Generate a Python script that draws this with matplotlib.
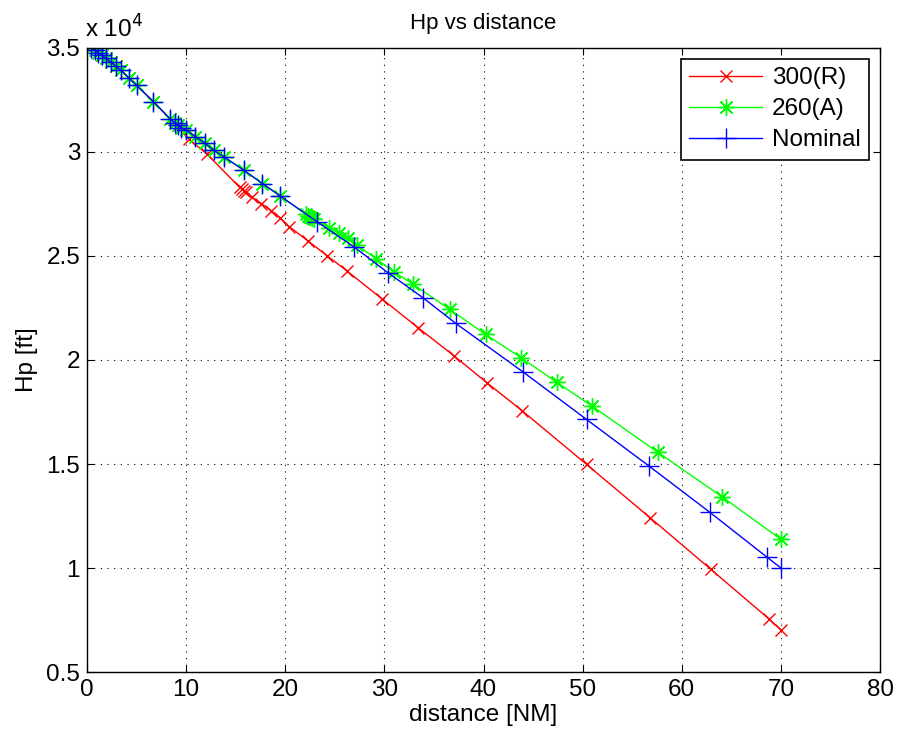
import matplotlib
matplotlib.use("Agg")
import matplotlib.pyplot as plt
from matplotlib.ticker import FuncFormatter, MultipleLocator

plt.rcParams['font.family'] = ['Liberation Sans', 'DejaVu Sans']

# Shared descent profile (first part of every trajectory)
d_common = [0.4, 0.8, 1.1, 1.5, 1.9, 2.4, 2.9, 3.4, 4.2, 5.0, 6.7, 8.4, 8.9, 9.2, 9.5]
hp_common = [35000, 34900, 34780, 34640, 34500, 34320, 34130, 33940, 33560, 33200,
             32420, 31580, 31380, 31300, 31160]

# 300(R)
d_300 = d_common + [10.3, 12.1, 15.4, 15.6, 15.8, 16.0, 16.6, 17.6, 18.6, 19.5, 20.4,
                    22.3, 24.2, 26.2, 29.8, 33.4, 37.0, 40.4, 43.9, 50.4, 56.8, 62.9,
                    68.8, 70.0]
hp_300 = hp_common + [30610, 29900, 28300, 28220, 28140, 28060, 27820, 27510, 27170,
                      26830, 26410, 25720, 25020, 24290, 22920, 21550, 20210, 18880,
                      17560, 14980, 12420, 9950, 7550, 7020]

# 260(A)
d_260 = d_common + [10.0, 10.9, 11.9, 12.8, 13.8, 15.8, 17.7, 19.5, 22.1, 22.3, 22.5,
                    22.7, 22.9, 24.4, 25.4, 26.3, 27.2, 29.2, 31.0, 32.9, 36.6, 40.2,
                    43.8, 47.4, 50.9, 57.6, 64.1, 70.0]
hp_260 = hp_common + [31060, 30740, 30420, 30080, 29770, 29130, 28480, 27880, 27000,
                      26940, 26880, 26820, 26760, 26340, 26090, 25850, 25530, 24860,
                      24220, 23640, 22430, 21230, 20110, 18920, 17800, 15560, 13410,
                      11380]

# Nominal
d_nom = d_common + [10.0, 10.9, 11.9, 12.8, 13.8, 15.8, 17.7, 19.5, 23.2, 26.9, 30.4,
                    33.9, 37.2, 44.0, 50.4, 56.7, 62.8, 68.6, 70.0]
hp_nom = hp_common + [31060, 30740, 30420, 30080, 29770, 29130, 28480, 27880, 26650,
                      25450, 24180, 22990, 21760, 19420, 17140, 14900, 12690, 10520,
                      10000]

FS = 17.5

fig = plt.figure(figsize=(8.98, 7.38), dpi=100)
ax = fig.add_axes([0.0969, 0.0894, 0.8831, 0.8456])

ax.plot(d_300, hp_300, color='#ff0000', lw=1.0, marker='x', ms=9, mew=1.0,
        label='300(R)')
ax.plot(d_260, hp_260, color='#00ff00', lw=1.0, marker=(8, 2, 0), ms=12, mew=1.0,
        label='260(A)')
ax.plot(d_nom, hp_nom, color='#0000ff', lw=1.0, marker='+', ms=14, mew=1.0,
        label='Nominal')

ax.set_xlim(0, 80)
ax.set_ylim(5000, 35000)
ax.xaxis.set_major_locator(MultipleLocator(10))
ax.yaxis.set_major_locator(MultipleLocator(5000))
ax.yaxis.set_major_formatter(FuncFormatter(lambda v, p: '%g' % (v / 1e4)))

ax.grid(True, color='black', linestyle=(0, (1, 5)), linewidth=0.8)
ax.tick_params(direction='in', top=True, right=True, length=5, width=0.8,
               labelsize=FS, pad=5)
for s in ax.spines.values():
    s.set_linewidth(1.0)

ax.set_title('Hp vs distance', fontsize=16, pad=14)
ax.set_xlabel('distance [NM]', fontsize=FS, labelpad=2)
ax.set_ylabel('Hp [ft]', fontsize=FS, labelpad=6)
ax.text(-0.002, 1.008, r'x 10$^{4}$', transform=ax.transAxes, fontsize=FS,
        ha='left', va='bottom')

leg = ax.legend(loc='upper right', fontsize=FS, frameon=True, fancybox=False,
                edgecolor='black', framealpha=1, handlelength=3.0,
                borderaxespad=0.45, labelspacing=0.37, handletextpad=0.4,
                borderpad=0.35)
leg.get_frame().set_linewidth(1.2)

fig.savefig('out.png', dpi=100)
